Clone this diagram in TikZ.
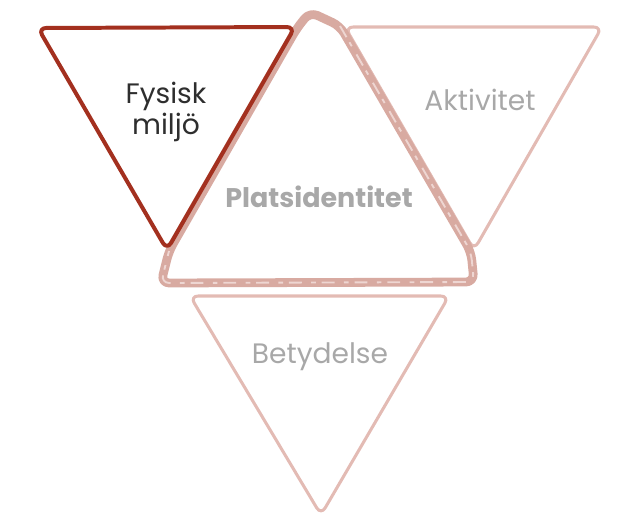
\documentclass[tikz,border=0pt]{standalone}
\usepackage{fontspec}
\setmainfont{Poppins}
\usetikzlibrary{positioning}
\definecolor{rost}{HTML}{A3301F}
\definecolor{rosa}{HTML}{E3BBB4}
\definecolor{rosamork}{HTML}{D8AAA1}
\definecolor{gratext}{HTML}{A8A8A8}
\definecolor{morktext}{HTML}{2E2E2E}

\begin{document}
\begin{tikzpicture}[x=0.03cm,y=-0.03cm,tri/.style={rounded corners=7pt,line join=round},lbl/.style={font=\fontsize{24}{27}\selectfont,text=gratext,align=center}]
\useasboundingbox (0,0) rectangle (619,521);
% corners
\coordinate (fa) at (38,28);
\coordinate (fb) at (295,27);
\coordinate (fc) at (167,250);
\coordinate (aa) at (345,27);
\coordinate (ab) at (602,27);
\coordinate (ac) at (474,250);
\coordinate (ba) at (190,296);
\coordinate (bb) at (449,296);
\coordinate (bc) at (321,515);
% centre outline
\coordinate (p1) at (310,12);
\coordinate (p2) at (340,26);
\coordinate (p3) at (471,252);
\coordinate (p4) at (474,282);
\coordinate (p5) at (161,283);
\coordinate (p6) at (169,251);
\coordinate (p7) at (297,28);
% outer triangles
\draw[tri,rosa,line width=2.6pt] (aa)--(ab)--(ac)--cycle;
\draw[tri,rosa,line width=2.6pt] (ba)--(bb)--(bc)--cycle;
% centre
\draw[tri,rosamork,line width=7.5pt] (p1)--(p2)--(p3)--(p4)--(p5)--(p6)--(p7)--cycle;
\draw[tri,rosa!60,line width=1.6pt,dash pattern=on 11pt off 5pt on 4pt off 8pt] (p2)--(p3)--(p4)--(p5)--(p6);
\draw[tri,rost,line width=3.4pt] (fa)--(fb)--(fc)--cycle;
% texts
\node[lbl,text=morktext] (fysisk) at (166,112) {Fysisk\\milj\"o};
\node[lbl] (aktivitet) at (480,100) {Aktivitet};
\node[lbl,font=\fontsize{23}{27}\selectfont\bfseries] (plats) at (319,197) {Platsidentitet};
\node[lbl] (betydelse) at (320,357) {Betydelse};
\end{tikzpicture}
\end{document}
